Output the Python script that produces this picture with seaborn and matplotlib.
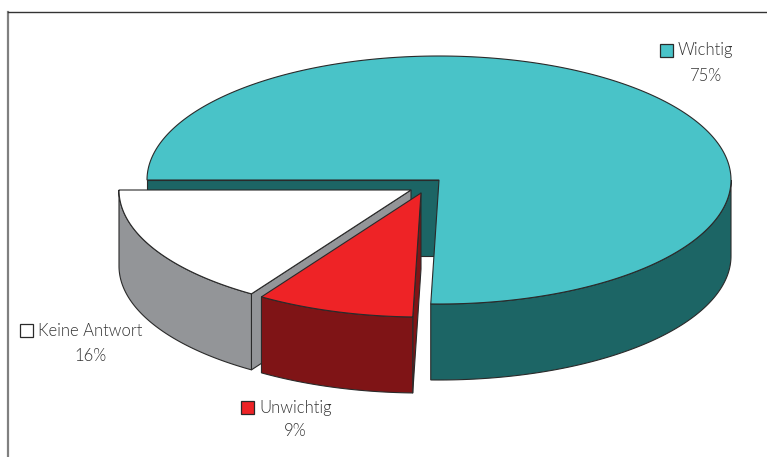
import numpy as np
import matplotlib
matplotlib.use("Agg")
import matplotlib.pyplot as plt
from matplotlib.patches import Rectangle
import seaborn as sns

# ---------------------------------------------------------------------------
# DATA (shares, labels round them)
# ---------------------------------------------------------------------------
categories = ["Wichtig", "Unwichtig", "Keine Antwort"]
shares = [75.45, 8.75, 15.8]

# ---------------------------------------------------------------------------
# STYLE
# ---------------------------------------------------------------------------
top_colors = ["#49C3C8", "#EE2326", "#FFFFFF"]
wall_colors = ["#1C6565", "#7F1416", "#939598"]
explode = [(0, 0), (-18, 13), (-28, 10)]
swatch_pos = [(660, 44), (241, 401), (20, 324)]
label_pos = [(706, 50), (295, 408), (90, 331)]
value_pos = [(706, 76), (295, 431), (90, 356)]

CENTER = (439, 180)
RX, RY = 292, 124
DEPTH = 76
EDGE = "#2A2A2A"
TEXT = "#333333"

sns.set_theme(style="white")
plt.rcParams["font.family"] = ["Lato", "DejaVu Sans"]

fig = plt.figure(figsize=(7.67, 4.57), dpi=100)
ax = fig.add_axes([8 / 767, 0, 759 / 767, 445 / 457])
ax.set_xlim(8, 767)
ax.set_ylim(457, 12)
ax.set_xticks([])
ax.set_yticks([])
sns.despine(ax=ax, top=False, left=False, right=True, bottom=True)
ax.spines["top"].set_color("#333333")
ax.spines["top"].set_linewidth(1.0)
ax.spines["left"].set_color("#808080")
ax.spines["left"].set_linewidth(1.6)


def arc(cx, cy, t1, t2, n=120):
    t = np.radians(np.linspace(t1, t2, n))
    return cx + RX * np.cos(t), cy - RY * np.sin(t)


def draw_slice(start, end, top, wall, dx, dy):
    cx, cy = CENTER[0] + dx, CENTER[1] + dy

    # radial cut face at the start of the slice
    x0, y0 = arc(cx, cy, start, start, 1)
    ax.fill([cx, x0[0], x0[0], cx], [cy, y0[0], y0[0] + DEPTH, cy + DEPTH],
            facecolor=wall, edgecolor=EDGE, lw=0.8, joinstyle="round")

    # outer wall, only the part that faces the viewer
    w1, w2 = min(start, 0), max(end, -180)
    if w1 > w2:
        xa, ya = arc(cx, cy, w1, w2)
        ax.fill(np.r_[xa, xa[::-1]], np.r_[ya, ya[::-1] + DEPTH],
                facecolor=wall, edgecolor=EDGE, lw=0.8)

    # top face
    xa, ya = arc(cx, cy, start, end, 300)
    ax.fill(np.r_[cx, xa], np.r_[cy, ya], facecolor=top, edgecolor=EDGE, lw=0.8)


angle = 180.0
spans = []
for share in shares:
    spans.append((angle, angle - share / sum(shares) * 360))
    angle = spans[-1][1]

# back slice first, then the exploded ones in front
for i in [0, 2, 1]:
    draw_slice(spans[i][0], spans[i][1], top_colors[i], wall_colors[i], *explode[i])

for i, name in enumerate(categories):
    sx, sy = swatch_pos[i]
    ax.add_patch(Rectangle((sx, sy), 13, 13, facecolor=top_colors[i], edgecolor=EDGE, lw=0.9))
    ax.text(sx + 18, label_pos[i][1], name, ha="left", va="center", fontsize=12,
            fontweight=300, color=TEXT)
    ax.text(value_pos[i][0], value_pos[i][1], f"{shares[i]:.0f}%", ha="center", va="center",
            fontsize=12, fontweight=300, color=TEXT)

fig.savefig("out.png", dpi=100)
plt.close(fig)
